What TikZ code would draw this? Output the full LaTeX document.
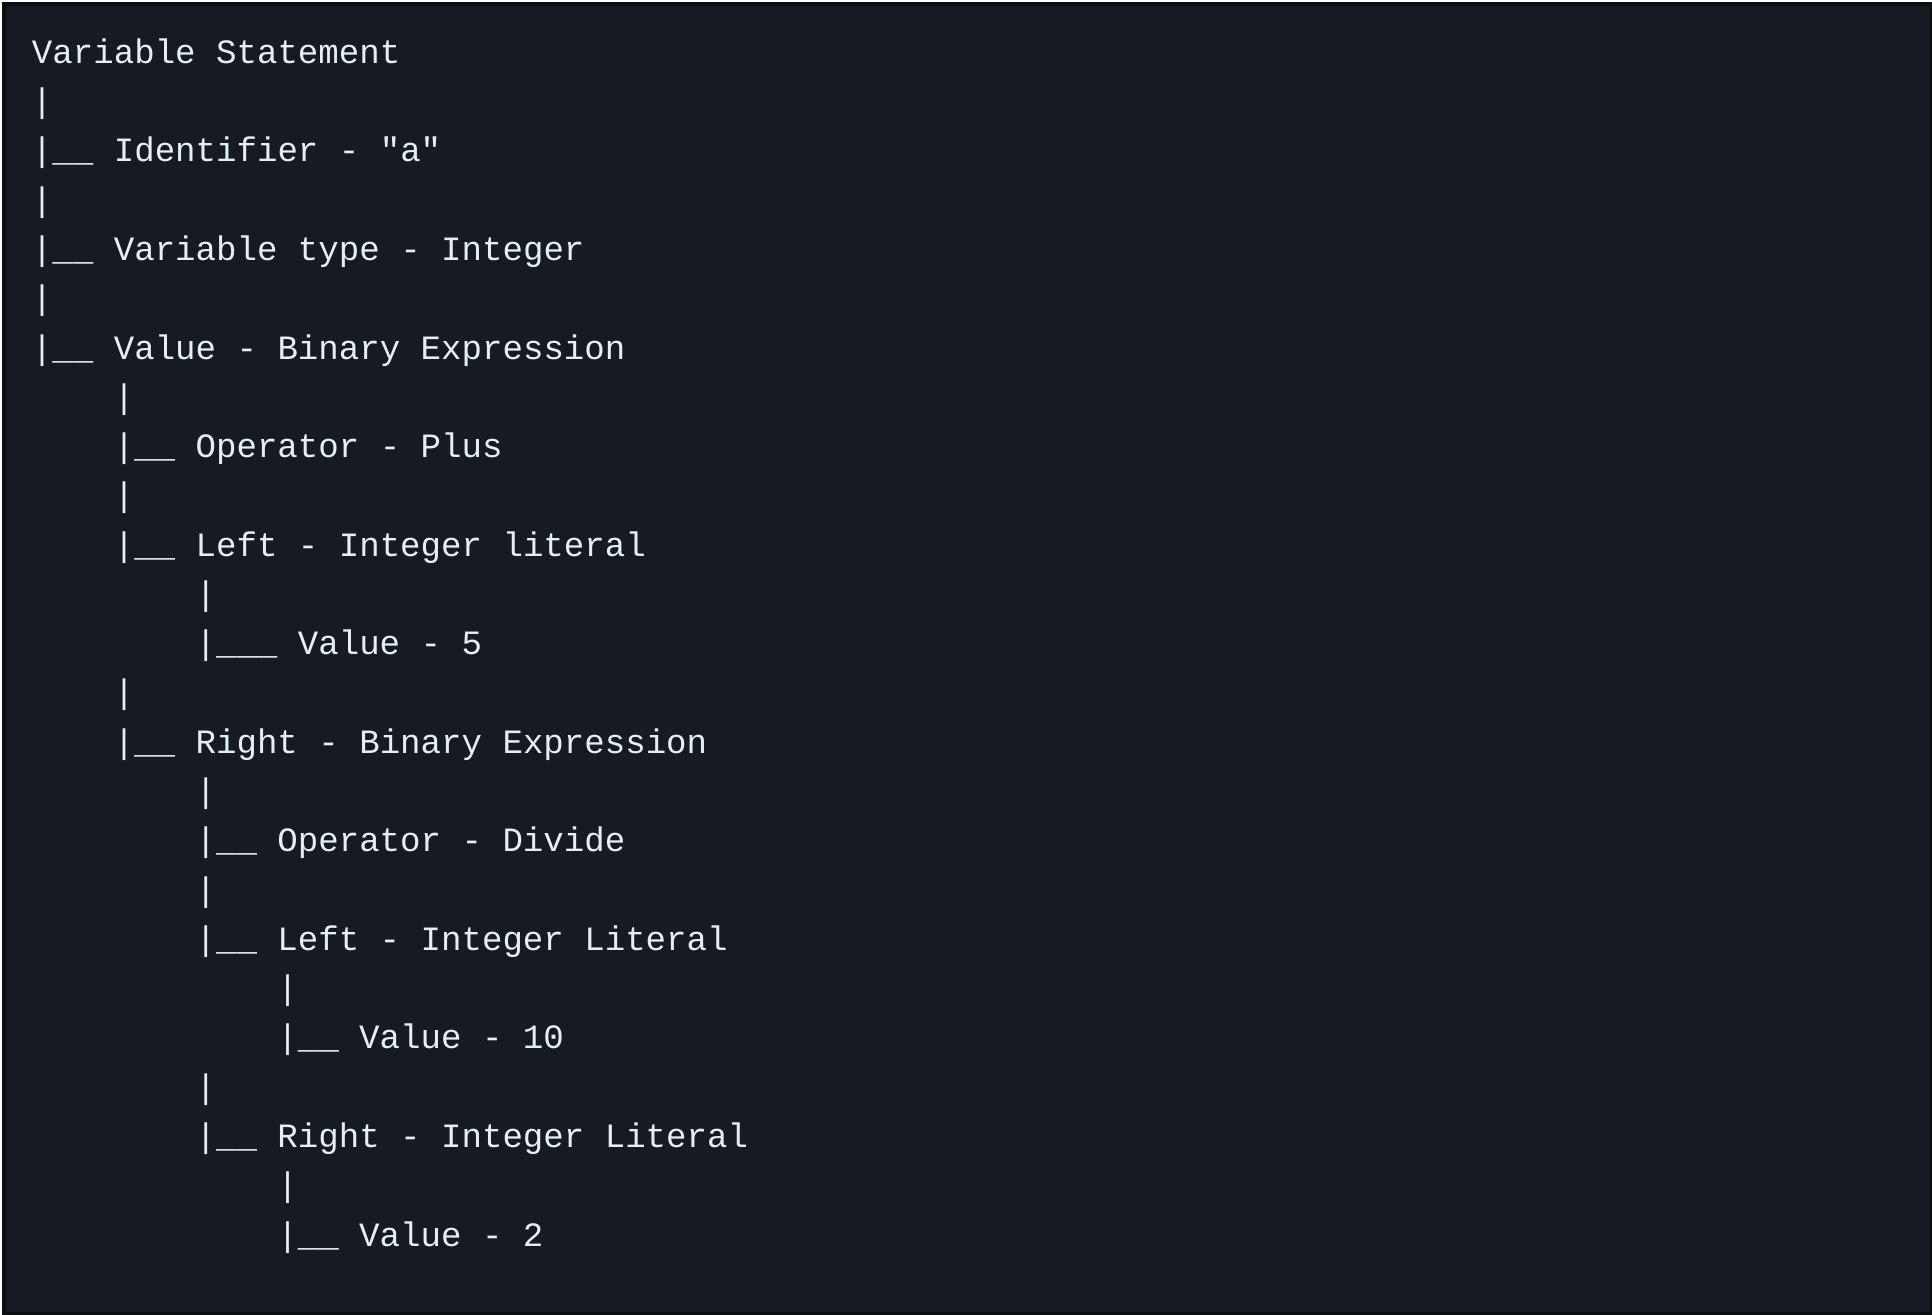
\documentclass[tikz,border=0pt]{standalone}
\usepackage{fontspec}
\newfontfamily\codefont{Liberation Mono}
\definecolor{panelbg}{HTML}{161B22}
\definecolor{panelrim}{HTML}{0B0E12}
\definecolor{codefg}{HTML}{E6EDF3}
\tikzset{
  codeline/.style={anchor=base west, inner sep=0pt, outer sep=0pt, text=codefg,
    font=\codefont\fontsize{17.05}{20}\selectfont},
  panel/.style={fill=panelbg, draw=panelrim, line width=2pt}
}
\begin{document}
\begin{tikzpicture}[x=0.5pt,y=-0.5pt]
    % background, in pixel units
    \useasboundingbox (0,0) rectangle (1932,1314);
    \node[panel, minimum width=1928*0.5pt, minimum height=1310*0.5pt, inner sep=0pt, anchor=north west] (bg) at (2,2) {};

    % columns: 0 -> 32, 4 -> 113.8, 8 -> 195.6, 12 -> 277.4
    \node[codeline] (r0)  at (32,63.3)     {Variable Statement};
    \node[codeline] (r1)  at (32,112.6)    {|};
    \node[codeline] (r2)  at (32,161.9)    {|\_\_ Identifier - "a"};
    \node[codeline] (r3)  at (32,211.1)    {|};
    \node[codeline] (r4)  at (32,260.4)    {|\_\_ Variable type - Integer};
    \node[codeline] (r5)  at (32,309.7)    {|};
    \node[codeline] (r6)  at (32,359.0)    {|\_\_ Value - Binary Expression};
    \node[codeline] (r7)  at (113.8,408.3) {|};
    \node[codeline] (r8)  at (113.8,457.5) {|\_\_ Operator - Plus};
    \node[codeline] (r9)  at (113.8,506.8) {|};
    \node[codeline] (r10) at (113.8,556.1) {|\_\_ Left - Integer literal};
    \node[codeline] (r11) at (195.6,605.4) {|};
    \node[codeline] (r12) at (195.6,654.7) {|\_\_\_ Value - 5};
    \node[codeline] (r13) at (113.8,703.9) {|};
    \node[codeline] (r14) at (113.8,753.2) {|\_\_ Right - Binary Expression};
    \node[codeline] (r15) at (195.6,802.5) {|};
    \node[codeline] (r16) at (195.6,851.8) {|\_\_ Operator - Divide};
    \node[codeline] (r17) at (195.6,901.1) {|};
    \node[codeline] (r18) at (195.6,950.3) {|\_\_ Left - Integer Literal};
    \node[codeline] (r19) at (277.4,999.6) {|};
    \node[codeline] (r20) at (277.4,1048.9) {|\_\_ Value - 10};
    \node[codeline] (r21) at (195.6,1098.2) {|};
    \node[codeline] (r22) at (195.6,1147.5) {|\_\_ Right - Integer Literal};
    \node[codeline] (r23) at (277.4,1196.7) {|};
    \node[codeline] (r24) at (277.4,1246.0) {|\_\_ Value - 2};
\end{tikzpicture}
\end{document}
